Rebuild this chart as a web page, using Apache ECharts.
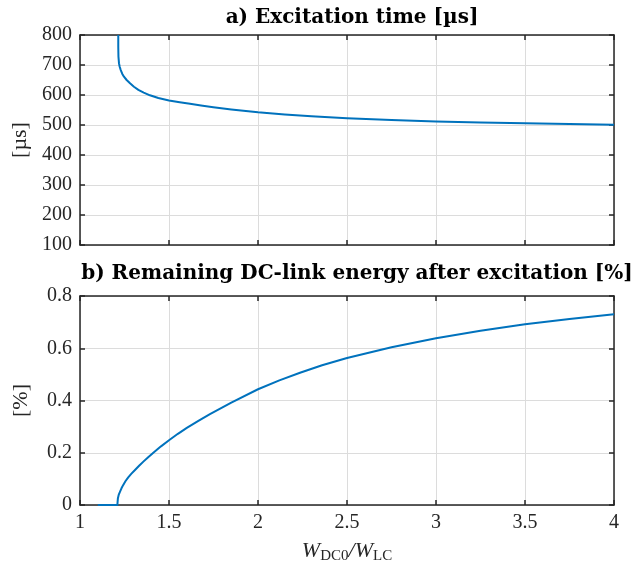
<!DOCTYPE html>
<html>
<head>
<meta charset="utf-8">
<script src="https://cdn.jsdelivr.net/npm/echarts@6/dist/echarts.min.js"></script>
<style>
html,body{margin:0;padding:0;background:#fff;}
#root{width:642px;height:567px;}
</style>
</head>
<body>
<div id="root"></div>
<script>
// a) excitation time [µs] vs W_DC0/W_LC
var timeX=[1.215,1.215,1.216,1.219,1.223,1.229,1.237,1.247,1.262,1.281,1.303,1.328,1.358,1.393,1.44,1.5,1.56,1.618,1.68,1.749,1.85,2,2.15,2.3,2.5,2.75,3,3.25,3.5,3.75,4];
var timeY=[800,760,728,706,694,683,671,661,650,639,627.5,617,608,599,590,582,576,570.5,565,559.5,552,542.5,535,529,522.5,516.5,512,508.5,505.5,503,501];
// b) remaining DC-link energy
var energyX=[1.1,1.21,1.211,1.213,1.218,1.225,1.233,1.243,1.256,1.271,1.289,1.309,1.332,1.356,1.383,1.412,1.455,1.5,1.55,1.6,1.665,1.73,1.85,2,2.12,2.236,2.36,2.5,2.75,3,3.25,3.5,3.75,4];
var energyY=[0,0,0.01,0.026,0.04,0.051,0.064,0.077,0.092,0.106,0.12,0.134,0.15,0.166,0.183,0.2,0.2245,0.248,0.2725,0.295,0.322,0.348,0.392,0.443,0.477,0.506,0.535,0.563,0.604,0.638,0.667,0.692,0.712,0.73];

var FONT="Liberation Serif";
var TFONT="DejaVu Serif";
var axisCol="#262626";
var lineCol="#0072BD";

var myChart=echarts.init(document.getElementById("root"),null,{renderer:"canvas"});

function mkX(grid,pos,labels,name){
  return {
    type:"value",gridIndex:grid,position:pos,min:1,max:4,interval:0.5,
    axisLine:{show:true,onZero:false,lineStyle:{color:axisCol,width:1.5}},
    axisTick:{show:true,inside:true,length:5,lineStyle:{color:axisCol,width:1.5}},
    axisLabel:{show:labels,color:axisCol,fontFamily:FONT,fontSize:20,margin:8,
      formatter:function(v){return String(v);}},
    splitLine:{show:pos==="bottom",lineStyle:{color:"#dcdcdc",width:1}},
    name:name||"",nameLocation:"middle",nameGap:33,
    nameTextStyle:{color:axisCol,fontFamily:FONT,
      rich:{
        i:{fontFamily:FONT,fontStyle:"italic",fontSize:22,color:axisCol},
        s:{fontFamily:FONT,fontSize:15,color:axisCol,padding:[11,0,0,0]}
      }}
  };
}
function mkY(grid,pos,min,max,step,labels,name,fmt){
  return {
    type:"value",gridIndex:grid,position:pos,min:min,max:max,interval:step,
    axisLine:{show:true,onZero:false,lineStyle:{color:axisCol,width:1.5}},
    axisTick:{show:true,inside:true,length:5,lineStyle:{color:axisCol,width:1.5}},
    axisLabel:{show:labels,color:axisCol,fontFamily:FONT,fontSize:20,margin:8,formatter:fmt},
    splitLine:{show:pos==="left",lineStyle:{color:"#dcdcdc",width:1}},
    name:name||"",nameLocation:"middle",nameRotate:90,nameGap:48,
    nameTextStyle:{color:axisCol,fontFamily:FONT,fontSize:22}
  };
}

var option={
  animation:false,
  backgroundColor:"#fff",
  title:[
    {text:"a) Excitation time [µs]",left:347,top:3,textAlign:"center",
     textStyle:{fontFamily:TFONT,fontWeight:"bold",fontSize:20,color:"#000"}},
    {text:"b) Remaining DC-link energy after excitation [%]",left:352,top:259,textAlign:"center",
     textStyle:{fontFamily:TFONT,fontWeight:"bold",fontSize:20,color:"#000"}}
  ],
  grid:[
    {left:80,right:28,top:35,height:210},
    {left:80,right:28,top:296,height:209}
  ],
  xAxis:[
    mkX(0,"bottom",false),
    mkX(0,"top",false),
    mkX(1,"bottom",true,"{i|W}{s|DC0}{i|/W}{s|LC}"),
    mkX(1,"top",false)
  ],
  yAxis:[
    mkY(0,"left",100,800,100,true,"[µs]"),
    mkY(0,"right",100,800,100,false),
    mkY(1,"left",0,0.8,0.2,true,"[%]",function(v){return v===0?"0":String(Math.round(v*10)/10);}),
    mkY(1,"right",0,0.8,0.2,false)
  ],
  series:[
    {type:"line",xAxisIndex:0,yAxisIndex:0,showSymbol:false,
     data:timeX.map(function(x,i){return [x,timeY[i]];}),
     lineStyle:{color:lineCol,width:2,join:"round"},itemStyle:{color:lineCol}},
    {type:"line",xAxisIndex:2,yAxisIndex:2,showSymbol:false,
     data:energyX.map(function(x,i){return [x,energyY[i]];}),
     lineStyle:{color:lineCol,width:2,join:"round"},itemStyle:{color:lineCol}}
  ]
};
option && myChart.setOption(option);
</script>
</body>
</html>
